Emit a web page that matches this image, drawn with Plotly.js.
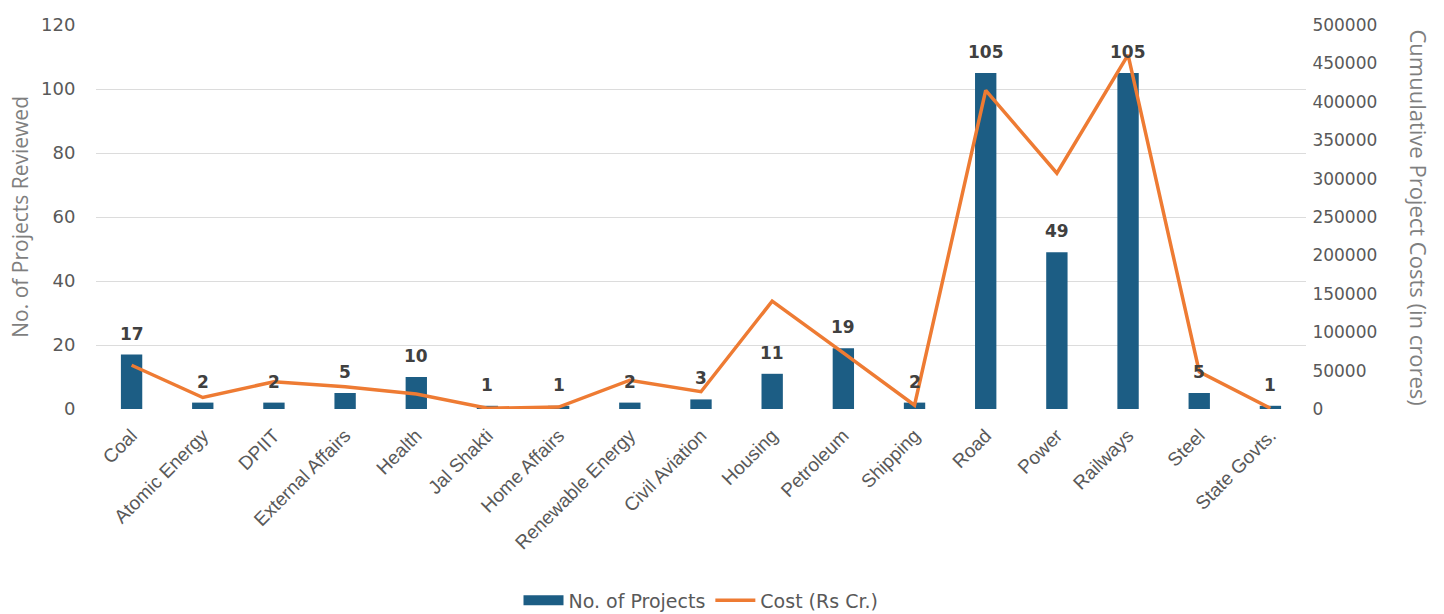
<!DOCTYPE html>
<html>
<head>
<meta charset="utf-8">
<script src="https://cdn.plot.ly/plotly-3.0.1.min.js"></script>
<style>html,body{margin:0;padding:0;background:#fff;overflow:hidden;}#chart{width:1444px;height:614px;}</style>
</head>
<body>
<div id="chart"></div>
<script>
const categories = ["Coal","Atomic Energy","DPIIT","External Affairs","Health","Jal Shakti","Home Affairs","Renewable Energy","Civil Aviation","Housing","Petroleum","Shipping","Road","Power","Railways","Steel","State Govts."];
const projects = [17,2,2,5,10,1,1,2,3,11,19,2,105,49,105,5,1];
const costs = [57000,15000,35500,29000,19500,1000,2500,37500,22500,140500,73000,5000,415000,307000,461000,48500,1000];
const leftTicks = [0,20,40,60,80,100,120];
const rightTicks = [0,50000,100000,150000,200000,250000,300000,350000,400000,450000,500000];

const barColor = '#1c5d84';
const lineColor = '#ee7b33';

const traces = [
  {
    type: 'bar', name: 'No. of Projects', x: categories, y: projects,
    marker: {color: barColor}, width: 0.3, showlegend: false,
    hoverinfo: 'none'
  },
  {
    type: 'scatter', mode: 'lines', name: 'No. of Projects', x: [categories[0]], y: [null],
    line: {color: barColor, width: 14}, hoverinfo: 'none', showlegend: true
  },
  {
    type: 'scatter', mode: 'lines', name: 'Cost (Rs Cr.)', x: categories, y: costs, yaxis: 'y2',
    line: {color: lineColor, width: 3.5}, hoverinfo: 'none'
  }
];

const titleFont = {color: '#7f7f7f', family: 'Open Sans, Liberation Sans, sans-serif'};

const barLabels = categories.map((c, i) => ({
  x: c, y: projects[i], xref: 'x', yref: 'y', text: String(projects[i]),
  showarrow: false, xanchor: 'center', yanchor: 'bottom', yshift: 9,
  font: {family: 'DejaVu Sans, sans-serif', size: 17, color: '#404040', weight: 'bold'}
}));

const layout = {
  width: 1444, height: 614,
  margin: {l: 96, r: 138, t: 25, b: 205, autoexpand: false},
  paper_bgcolor: '#ffffff', plot_bgcolor: '#ffffff',
  font: {family: 'Liberation Sans, Arial, sans-serif', color: '#595959'},
  showlegend: true,
  legend: {orientation: 'h', x: 0.5, xanchor: 'center', yref: 'container', y: 0.022, yanchor: 'middle',
    font: {family: 'DejaVu Sans, sans-serif', size: 19, color: '#595959'}, traceorder: 'normal', itemwidth: 40},
  xaxis: {
    tickangle: -45, tickfont: {size: 19, color: '#595959'},
    showgrid: false, showline: false, ticks: 'outside', ticklen: 7, tickcolor: 'rgba(0,0,0,0)', automargin: false
  },
  yaxis: {
    range: [0, 120], tickvals: leftTicks, ticktext: leftTicks.map(String),
    gridcolor: '#dcdcdc', gridwidth: 1, zeroline: false, showline: false,
    tickfont: {family: 'DejaVu Sans, sans-serif', size: 18, color: '#595959'}, ticks: 'outside', ticklen: 16, tickcolor: 'rgba(0,0,0,0)',
    automargin: false
  },
  yaxis2: {
    range: [0, 500000], tickvals: rightTicks, ticktext: rightTicks.map(String),
    overlaying: 'y', side: 'right', showgrid: false, zeroline: false, showline: false,
    tickfont: {family: 'DejaVu Sans, sans-serif', size: 17, color: '#595959'}, ticks: 'outside', ticklen: 2, tickcolor: 'rgba(0,0,0,0)',
    automargin: false
  },
  annotations: barLabels.concat([
    {text: 'No. of Projects Reviewed', xref: 'paper', yref: 'paper', x: -0.063, y: 0.5,
     xanchor: 'center', yanchor: 'middle', textangle: -90, showarrow: false, font: Object.assign({size: 21}, titleFont)},
    {text: 'Cumuulative Project Costs (in crores)', xref: 'paper', yref: 'paper', x: 1.093, y: 0.5,
     xanchor: 'center', yanchor: 'middle', textangle: 90, showarrow: false, font: Object.assign({size: 22}, titleFont)}
  ]),
  bargap: 0.7
};

Plotly.newPlot('chart', traces, layout, {displayModeBar: false, staticPlot: true});
</script>
</body>
</html>
